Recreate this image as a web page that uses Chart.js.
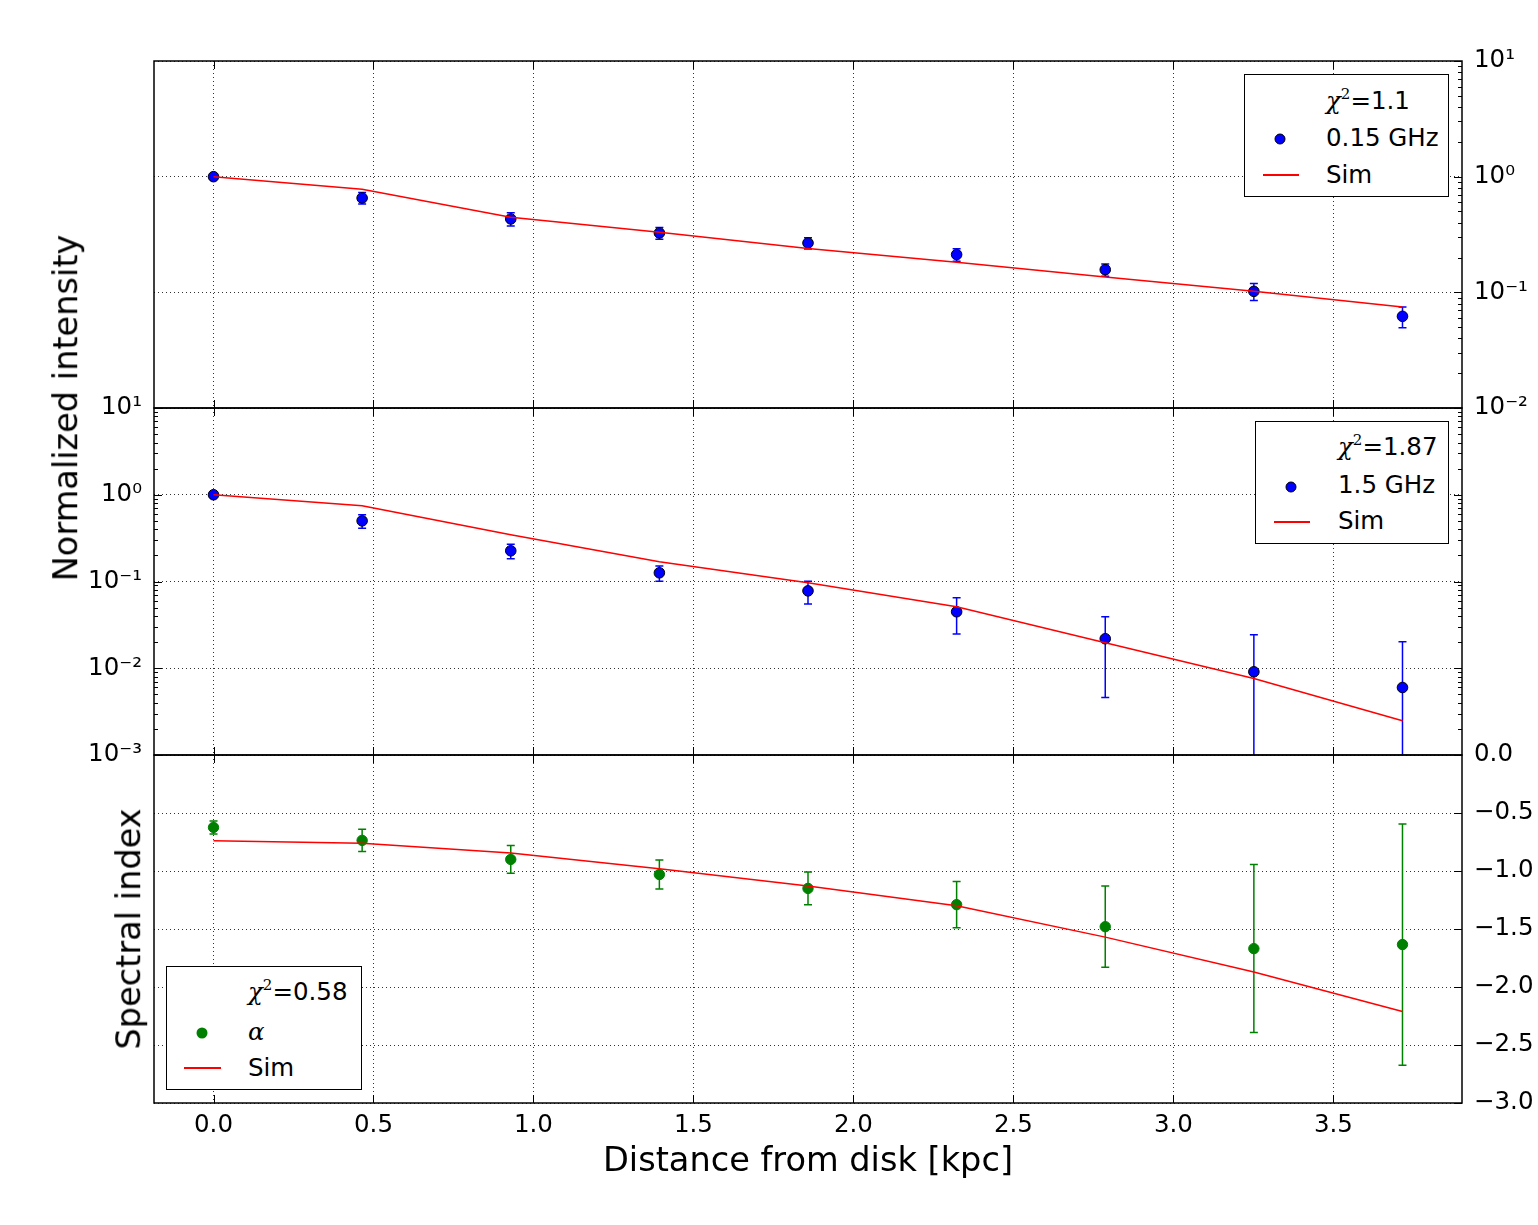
<!DOCTYPE html>
<html>
<head>
<meta charset="utf-8">
<script src="https://cdn.jsdelivr.net/npm/chart.js@4.4.0/dist/chart.umd.min.js"></script>
<style>
  body { margin: 0; background: #fff; font-family: 'DejaVu Sans', sans-serif; color: #000; }
  #wrap { position: relative; width: 1538px; height: 1225px; overflow: hidden; }
  canvas { position: absolute; left: 0; top: 0; }
  .title { position: absolute; font-size: 33.6px; line-height: 1; white-space: nowrap; transform: translate(-50%, -50%); }
  .title.rot { transform: translate(-50%, -50%) rotate(-90deg); }
  .leg { position: absolute; border: 1.5px solid #000; background: #fff; box-sizing: border-box; font-size: 24.5px; }
  .leg .txt { position: absolute; line-height: 25px; white-space: nowrap; }
  .leg .dot { position: absolute; width: 11px; height: 11px; border-radius: 50%; box-sizing: border-box; transform: translate(-50%, -50%); }
  .leg .ln { position: absolute; height: 1.5px; background: #ff0000; }
  .gr { font-family: 'DejaVu Serif', serif; font-style: italic; }
  .sup { font-family: 'DejaVu Serif', serif; font-size: 15px; position: relative; top: -10px; }
</style>
</head>
<body>
<div id="wrap">
  <canvas id="topChart" width="1538" height="1225"></canvas>
  <canvas id="midChart" width="1538" height="1225"></canvas>
  <canvas id="botChart" width="1538" height="1225"></canvas>

  <div class="title rot" style="left:66px; top:408px;">Normalized intensity</div>
  <div class="title rot" style="left:129px; top:929px;">Spectral index</div>
  <div class="title" style="left:808px; top:1160px;">Distance from disk [kpc]</div>

  <!-- legends, matplotlib style -->
  <div class="leg" style="left:1244px; top:74px; width:205px; height:123px;">
    <div class="txt" style="left:81px; top:13px;"><span class="gr">χ</span><span class="sup">2</span>=1.1</div>
    <div class="dot" style="left:35px; top:64px; background:#0000ff; border:1px solid #000;"></div>
    <div class="txt" style="left:81px; top:50px;">0.15 GHz</div>
    <div class="ln" style="left:18px; top:99px; width:36px;"></div>
    <div class="txt" style="left:81px; top:87px;">Sim</div>
  </div>
  <div class="leg" style="left:1255px; top:421px; width:194px; height:123px;">
    <div class="txt" style="left:82px; top:12px;"><span class="gr">χ</span><span class="sup">2</span>=1.87</div>
    <div class="dot" style="left:35px; top:65px; background:#0000ff; border:1px solid #000;"></div>
    <div class="txt" style="left:82px; top:50px;">1.5 GHz</div>
    <div class="ln" style="left:18px; top:99px; width:36px;"></div>
    <div class="txt" style="left:82px; top:86px;">Sim</div>
  </div>
  <div class="leg" style="left:166px; top:966px; width:196px; height:124px;">
    <div class="txt" style="left:81px; top:12px;"><span class="gr">χ</span><span class="sup">2</span>=0.58</div>
    <div class="dot" style="left:35px; top:66px; background:#008000;"></div>
    <div class="txt gr" style="left:81px; top:52px;">α</div>
    <div class="ln" style="left:17px; top:100px; width:37px;"></div>
    <div class="txt" style="left:81px; top:88px;">Sim</div>
  </div>
</div>
<script>
// distance from disk [kpc]
var xVals = [0, 0.4645, 0.929, 1.3935, 1.858, 2.3225, 2.787, 3.2515, 3.716];
var xTicks = [0, 0.5, 1.0, 1.5, 2.0, 2.5, 3.0, 3.5];
var xMin = -0.186, xMax = 3.902;

// 0.15 GHz normalized intensity
var lowObs = [1.0, 0.654, 0.431, 0.326, 0.267, 0.212, 0.157, 0.102, 0.062];
var lowErr = [0.04, 0.075, 0.057, 0.038, 0.03, 0.026, 0.019, 0.017, 0.0125];
var lowSim = [1.0, 0.777, 0.445, 0.330, 0.239, 0.182, 0.136, 0.102, 0.0748];

// 1.5 GHz normalized intensity
var highObs = [1.0, 0.50, 0.226, 0.126, 0.078, 0.0448, 0.0219, 0.0091, 0.0060];
var highErr = [0.06, 0.09, 0.043, 0.025, 0.023, 0.020, 0.0173, 0.0152, 0.0142];
var highSim = [1.0, 0.747, 0.346, 0.169, 0.097, 0.0513, 0.0197, 0.0076, 0.00248];

// spectral index
var alphaObs = [-0.624, -0.736, -0.90, -1.03, -1.15, -1.29, -1.48, -1.669, -1.634];
var alphaErr = [0.056, 0.095, 0.12, 0.125, 0.142, 0.2, 0.35, 0.724, 1.04];
var alphaSim = [-0.74, -0.76, -0.845, -0.98, -1.13, -1.30, -1.57, -1.871, -2.212];

// axis tick values and labels
var topTicks = [0.01, 0.1, 1, 10];
var topLabels = ['10⁻²', '10⁻¹', '10⁰', '10¹'];
var midTicks = [0.001, 0.01, 0.1, 1, 10];
var midLabels = ['10⁻³', '10⁻²', '10⁻¹', '10⁰', '10¹'];
var botTicks = [-3.0, -2.5, -2.0, -1.5, -1.0, -0.5, 0.0];
var botLabels = ['−3.0', '−2.5', '−2.0', '−1.5', '−1.0', '−0.5', '0.0'];

var tickFont = { family: 'DejaVu Sans', size: 24.5 };
var gridColor = 'rgba(0,0,0,0.8)';

function pts(ys) {
    return xVals.map(function (x, i) { return { x: x, y: ys[i] }; });
}

// symmetric error bars, drawn under the markers through the chart scales
function errorBars(ys, errs, color) {
    return {
        id: 'errbars',
        beforeDatasetsDraw: function (chart) {
            var ctx = chart.ctx, a = chart.chartArea, sx = chart.scales.x, sy = chart.scales.y;
            ctx.save();
            ctx.beginPath();
            ctx.rect(a.left, a.top, a.right - a.left, a.bottom - a.top);
            ctx.clip();
            ctx.strokeStyle = color;
            ctx.lineWidth = 1.5;
            xVals.forEach(function (xv, i) {
                var px = sx.getPixelForValue(xv);
                var hi = ys[i] + errs[i], lo = ys[i] - errs[i];
                var pHi = sy.getPixelForValue(hi);
                var pLo = (sy.type === 'logarithmic' && lo <= 0) ? a.bottom + 20 : sy.getPixelForValue(lo);
                ctx.beginPath();
                ctx.moveTo(px, pHi); ctx.lineTo(px, pLo);
                ctx.moveTo(px - 4, pHi); ctx.lineTo(px + 4, pHi);
                ctx.moveTo(px - 4, pLo); ctx.lineTo(px + 4, pLo);
                ctx.stroke();
            });
            ctx.restore();
        }
    };
}

// box around the panel plus inward tick marks (major and log minor)
function frame(ySides, logMinor) {
    return {
        id: 'frame',
        afterDraw: function (chart) {
            var ctx = chart.ctx, a = chart.chartArea, sx = chart.scales.x, sy = chart.scales.y;
            ctx.save();
            ctx.strokeStyle = '#000';
            ctx.lineWidth = 1;
            ctx.beginPath();
            sx.ticks.forEach(function (t) {
                var px = Math.round(sx.getPixelForValue(t.value)) + 0.5;
                ctx.moveTo(px, a.bottom); ctx.lineTo(px, a.bottom - 8);
                ctx.moveTo(px, a.top); ctx.lineTo(px, a.top + 8);
            });
            var marks = sy.ticks.map(function (t) { return [t.value, 8]; });
            if (logMinor) {
                for (var e = Math.round(Math.log10(sy.min)); e < Math.round(Math.log10(sy.max)); e++) {
                    for (var k = 2; k < 10; k++) marks.push([k * Math.pow(10, e), 4]);
                }
            }
            marks.forEach(function (m) {
                var py = Math.round(sy.getPixelForValue(m[0])) + 0.5;
                if (ySides.indexOf('left') >= 0) { ctx.moveTo(a.left, py); ctx.lineTo(a.left + m[1], py); }
                if (ySides.indexOf('right') >= 0) { ctx.moveTo(a.right, py); ctx.lineTo(a.right - m[1], py); }
            });
            ctx.stroke();
            ctx.lineWidth = 1.5;
            ctx.strokeRect(a.left, a.top, a.right - a.left, a.bottom - a.top);
            ctx.restore();
        }
    };
}

function xScale(showLabels) {
    return {
        type: 'linear', min: xMin, max: xMax,
        afterBuildTicks: function (s) { s.ticks = xTicks.map(function (v) { return { value: v }; }); },
        ticks: {
            display: showLabels, font: tickFont, color: '#000', padding: 8, maxRotation: 0,
            callback: function (v) { return v.toFixed(1); }
        },
        grid: { color: gridColor, lineWidth: 1, drawTicks: false },
        border: { display: false, dash: [1, 3] },
        afterFit: function (s) { s.height = showLabels ? 60 : 0; }
    };
}

function yScale(type, pos, min, max, vals, labels, width) {
    return {
        type: type, position: pos, min: min, max: max,
        afterBuildTicks: function (s) { s.ticks = vals.map(function (v) { return { value: v }; }); },
        ticks: {
            font: tickFont, color: '#000', padding: 12,
            callback: function (v) {
                for (var i = 0; i < vals.length; i++) if (Math.abs(vals[i] - v) < 1e-9) return labels[i];
                return '';
            }
        },
        grid: { color: gridColor, lineWidth: 1, drawTicks: false },
        border: { display: false, dash: [1, 3] },
        afterFit: function (s) { s.width = width; }
    };
}

function panel(id, obs, sim, color, edge, radius, yOpts, pad, plugins, obsLabel) {
    return new Chart(document.getElementById(id), {
        type: 'line',
        data: {
            datasets: [{
                label: 'Sim',
                data: pts(sim),
                borderColor: '#ff0000',
                borderWidth: 1.5,
                pointRadius: 0,
                fill: false,
                tension: 0,
                order: 0
            }, {
                label: obsLabel,
                data: pts(obs),
                showLine: false,
                pointRadius: radius,
                pointBackgroundColor: color,
                pointBorderColor: edge,
                pointBorderWidth: 1,
                order: 1
            }]
        },
        options: {
            responsive: false,
            animation: false,
            devicePixelRatio: 1,
            layout: { padding: pad },
            plugins: { legend: { display: false }, tooltip: { enabled: false } },
            scales: { x: xScale(id === 'botChart'), y: yOpts }
        },
        plugins: plugins
    });
}

panel('topChart', lowObs, lowSim, '#0000ff', '#000', 5.3,
    yScale('logarithmic', 'right', 0.01, 10, topTicks, topLabels, 76),
    { left: 154, right: 0, top: 61, bottom: 817 },
    [errorBars(lowObs, lowErr, '#0000ff'), frame(['right'], true)], '0.15 GHz');

panel('midChart', highObs, highSim, '#0000ff', '#000', 5.3,
    yScale('logarithmic', 'left', 0.001, 10, midTicks, midLabels, 154),
    { left: 0, right: 76, top: 408, bottom: 470 },
    [errorBars(highObs, highErr, '#0000ff'), frame(['left', 'right'], true)], '1.5 GHz');

panel('botChart', alphaObs, alphaSim, '#008000', '#008000', 5.2,
    yScale('linear', 'right', -3.0, 0.0, botTicks, botLabels, 76),
    { left: 154, right: 0, top: 755, bottom: 62 },
    [errorBars(alphaObs, alphaErr, '#008000'), frame(['right'], false)], 'α');
</script>
</body>
</html>
